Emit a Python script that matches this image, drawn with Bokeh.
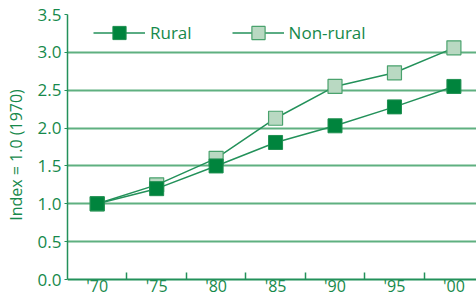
from bokeh.plotting import figure
from bokeh.models import (Range1d, FixedTicker, NumeralTickFormatter, ColumnDataSource,
                          Legend, LegendItem)
from bokeh.core.properties import value
from bokeh.embed import file_html
from bokeh.resources import INLINE

# ---- data ----
years = [1970, 1975, 1980, 1985, 1990, 1995, 2000]
year_labels = ["'70", "'75", "'80", "'85", "'90", "'95", "'00"]
rural = [1.00, 1.20, 1.50, 1.81, 2.03, 2.28, 2.55]
non_rural = [1.00, 1.25, 1.60, 2.13, 2.55, 2.73, 3.06]
y_ticks = [0.0, 0.5, 1.0, 1.5, 2.0, 2.5, 3.0, 3.5]
y_title = "Index = 1.0 (1970)"

GREEN_TEXT = "#16894b"
GREEN_LINE = "#23915a"
GRID = "#5fb080"
DARK = "#00843d"
LIGHT = "#b9d9c2"
FONT = "Open Sans"

p = figure(width=476, height=295, output_backend="svg", toolbar_location=None,
           x_range=Range1d(1967.5, 2001.9), y_range=Range1d(-0.211, 3.5),
           min_border_top=14, min_border_left=67, min_border_right=0, min_border_bottom=0)
p.outline_line_color = None
p.background_fill_color = "white"
p.border_fill_color = "white"

# grid
p.xgrid.grid_line_color = None
p.ygrid.ticker = FixedTicker(ticks=y_ticks[1:])
p.ygrid.grid_line_color = GRID
p.ygrid.grid_line_width = 2

# y axis
ya = p.yaxis[0]
ya.ticker = FixedTicker(ticks=y_ticks)
ya.bounds = (y_ticks[0], y_ticks[-1])
ya.formatter = NumeralTickFormatter(format="0.0")
ya.axis_line_color = GREEN_LINE
ya.axis_line_width = 1.5
ya.major_tick_line_color = GREEN_LINE
ya.major_tick_out = 3
ya.major_tick_in = 0
ya.minor_tick_line_color = None
ya.major_label_standoff = 3
ya.major_label_text_font = FONT
ya.major_label_text_font_size = "17px"
ya.major_label_text_color = GREEN_TEXT
ya.axis_label = y_title
ya.axis_label_text_font = FONT
ya.axis_label_text_font_size = "16px"
ya.axis_label_text_font_style = "normal"
ya.axis_label_text_color = GREEN_TEXT
ya.axis_label_standoff = 8

# x axis drawn at y = 0: tick marks between the years
xa = p.xaxis[0]
bounds = [(a + b) / 2 for a, b in zip(years[:-1], years[1:])] + [years[-1] + 2.5]
xa.fixed_location = 0
xa.ticker = FixedTicker(ticks=[], minor_ticks=bounds)
xa.axis_line_color = GREEN_LINE
xa.axis_line_width = 2
xa.major_tick_line_color = None
xa.major_tick_in = 0
xa.major_tick_out = 0
xa.minor_tick_line_color = GREEN_LINE
xa.minor_tick_line_width = 1.5
xa.minor_tick_in = 7
xa.minor_tick_out = 0
xa.major_label_standoff = 0
xa.major_label_text_font_size = "0px"

src = ColumnDataSource(dict(x=years, lab=year_labels, r=rural, n=non_rural))

# year labels under the x axis
p.text("x", 0, text="lab", source=src, y_offset=6, text_align="center",
       text_baseline="alphabetic", text_font=value(FONT), text_font_size="16px",
       text_color=GREEN_TEXT)

ln_n = p.line("x", "n", source=src, line_color=GREEN_LINE, line_width=1.5)
sc_n = p.scatter("x", "n", source=src, marker="square", size=14,
                 fill_color=LIGHT, line_color="#4aa26d", line_width=1.2)
ln_r = p.line("x", "r", source=src, line_color=GREEN_LINE, line_width=1.5)
sc_r = p.scatter("x", "r", source=src, marker="square", size=14,
                 fill_color=DARK, line_color="#1e8f50", line_width=1)

legend = Legend(items=[LegendItem(label="Rural", renderers=[ln_r, sc_r]),
                       LegendItem(label="Non-rural", renderers=[ln_n, sc_n])],
                orientation="horizontal", location=(26, 246),
                glyph_width=52, glyph_height=33, label_standoff=5, spacing=40,
                padding=0, margin=0, border_line_color=None, background_fill_alpha=0,
                label_text_font=FONT, label_text_font_size="17px",
                label_text_color=GREEN_TEXT)
p.add_layout(legend)

open("out.html", "w").write(file_html(p, INLINE))
